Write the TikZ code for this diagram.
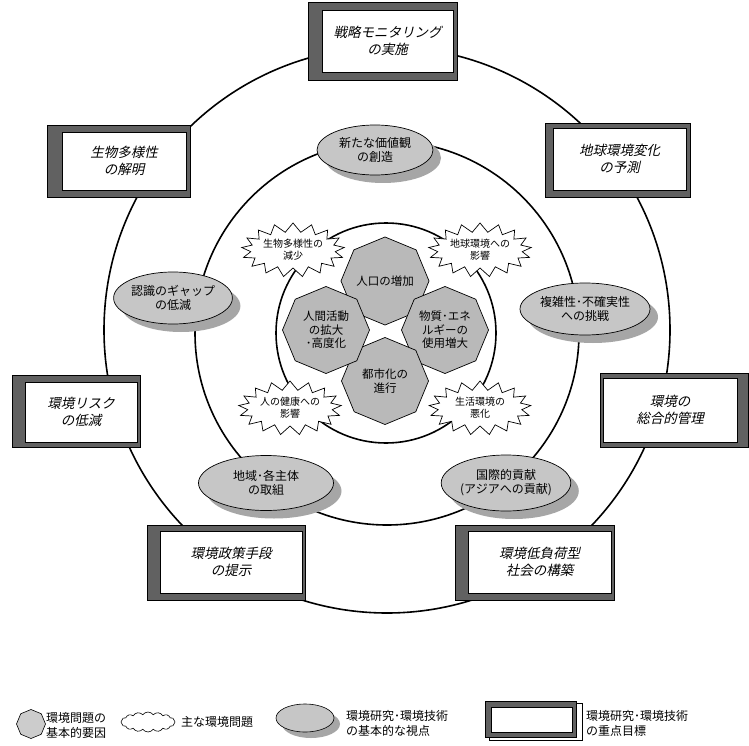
\documentclass[tikz,border=0pt]{standalone}
\usepackage{fontspec}
\setmainfont{Noto Sans CJK JP}
\newfontfamily\jpit[FakeSlant=0.22]{Noto Sans CJK JP}
\usetikzlibrary{shapes.geometric,shapes.symbols,shadows}
\newcommand\gframe[8]{%
  \fill[gframestyle] ({#1-#3/2-#5},{#2-#4/2-#6}) rectangle ({#1+#3/2+#7},{#2+#4/2+#8});%
  \draw[line width=0.5pt] ({#1-#3/2-#5},{#2-#4/2-#6}) rectangle ({#1+#3/2+#7},{#2+#4/2+#8});}
\begin{document}
\begin{tikzpicture}[x=1pt,y=-1pt,
  ring/.style={line width=1.6pt},
  octa/.style={regular polygon, regular polygon sides=8, shape border rotate=22.5, draw, line width=0.7pt, fill=gray!55, minimum size=87pt, inner sep=0pt, align=center, font=\fontsize{11.5}{13.5}\selectfont},
  burst/.style={starburst, starburst points=17, starburst point height=9pt, random starburst=0, draw, fill=white, line width=0.7pt, align=center, font=\fontsize{10}{12}\selectfont, inner sep=0pt, minimum width=102pt, minimum height=54pt},
  view/.style={ellipse, draw, line width=0.7pt, fill=gray!45, align=center, font=\fontsize{12}{14}\selectfont, inner sep=0pt, drop shadow={shadow xshift=8pt, shadow yshift=-8pt, fill=gray!70, opacity=1}},
  goal/.style={draw, line width=0.7pt, fill=white, align=center, font=\jpit\fontsize{13.5}{17}\selectfont, inner sep=0pt},
  gframestyle/.style={fill=black!62},
  legtext/.style={anchor=west, align=left, font=\fontsize{12}{15}\selectfont, inner sep=0pt}
]
\useasboundingbox (0,0) rectangle (749,746);
\fill[white] (0,0) rectangle (749,746);

% rings
\draw[ring] (387,330) circle[radius=283];
\draw[ring] (387,333) circle[radius=192];
\draw[ring] (386,333) circle[radius=110];

% goal boxes (frames then white inner boxes)
\gframe{387.5}{41}{131}{62}{14}{8}{4}{8}
\node[goal, minimum width=131pt, minimum height=62pt] (g1) at (387.5,41) {戦略モニタリング\\の実施};
\gframe{124}{161}{124}{58}{15}{7}{4}{7}
\node[goal, minimum width=124pt, minimum height=58pt] (g2) at (124,161) {生物多様性\\の解明};
\gframe{619.5}{159}{133}{62}{8}{5}{4}{7}
\node[goal, minimum width=133pt, minimum height=62pt] (g3) at (619.5,159) {地球環境変化\\の予測};
\gframe{81}{412}{112}{60}{13}{7}{3}{5}
\node[goal, minimum width=112pt, minimum height=60pt] (g4) at (81,412) {環境リスク\\の低減};
\gframe{670}{410}{134}{64}{3}{5}{11}{5}
\node[goal, minimum width=134pt, minimum height=64pt] (g5) at (670,410) {環境の\\総合的管理};
\gframe{231}{562}{142}{62}{13}{6}{3}{7}
\node[goal, minimum width=142pt, minimum height=62pt] (g6) at (231,562) {環境政策手段\\の提示};
\gframe{539.5}{562}{143}{62}{13}{6}{3}{7}
\node[goal, minimum width=143pt, minimum height=62pt] (g7) at (539.5,562) {環境低負荷型\\社会の構築};

% viewpoints (ellipses)
\node[view, minimum width=116pt, minimum height=50pt] (v1) at (375,150) {新たな価値観\\の創造};
\node[view, minimum width=117pt, minimum height=52pt] (v2) at (173,298) {認識のギャップ\\の低減};
\node[view, minimum width=130pt, minimum height=52pt] (v3) at (585,309) {複雑性･不確実性\\への挑戦};
\node[view, minimum width=135pt, minimum height=55pt] (v4) at (266,483) {地域･各主体\\の取組};
\node[view, minimum width=114pt, minimum height=56pt] (v5) at (506,483) {国際的貢献\\(アジアへの貢献)};

% main problems (starbursts)
\node[burst] (p1) at (293,250) {生物多様性の\\減少};
\node[burst] (p2) at (480,250) {地球環境への\\影響};
\node[burst] (p3) at (290,408) {人の健康への\\影響};
\node[burst] (p4) at (480,408) {生活環境の\\悪化};

% basic factors (octagons)
\node[octa] (f1) at (385,281) {人口の増加};
\node[octa] (f2) at (445,330) {物質･エネ\\ルギーの\\使用増大};
\node[octa] (f3) at (385,381) {都市化の\\進行};
\node[octa] (f4) at (326,330) {人間活動\\の拡大\\･高度化};

% legend
\node[regular polygon, regular polygon sides=8, shape border rotate=22.5, draw, line width=0.6pt, fill=gray!40, minimum size=29pt, inner sep=0pt] (l1) at (31,724) {};
\node[legtext] (l1t) at (46,725) {環境問題の\\基本的要因};
\node[cloud, cloud puffs=16, cloud puff arc=110, aspect=2.6, draw, line width=0.6pt, minimum width=54pt, minimum height=20pt, inner sep=0pt] (l2) at (148,722) {};
\node[legtext] (l2t) at (181,722) {主な環境問題};
\node[ellipse, draw, line width=0.6pt, fill=gray!45, minimum width=58pt, minimum height=28pt, inner sep=0pt, drop shadow={shadow xshift=6pt, shadow yshift=-6pt, fill=gray!70, opacity=1}] (l3) at (305,718) {};
\node[legtext] (l3t) at (346,723) {環境研究･環境技術\\の基本的な視点};
\draw[line width=0.5pt] (489,703) rectangle (582,740);
\gframe{531.5}{719.5}{81}{25}{6}{6}{4}{5}
\node[draw, line width=0.6pt, fill=white, minimum width=81pt, minimum height=25pt, inner sep=0pt] (l4) at (531.5,719.5) {};
\node[legtext] (l4t) at (586,723) {環境研究･環境技術\\の重点目標};
\end{tikzpicture}
\end{document}
